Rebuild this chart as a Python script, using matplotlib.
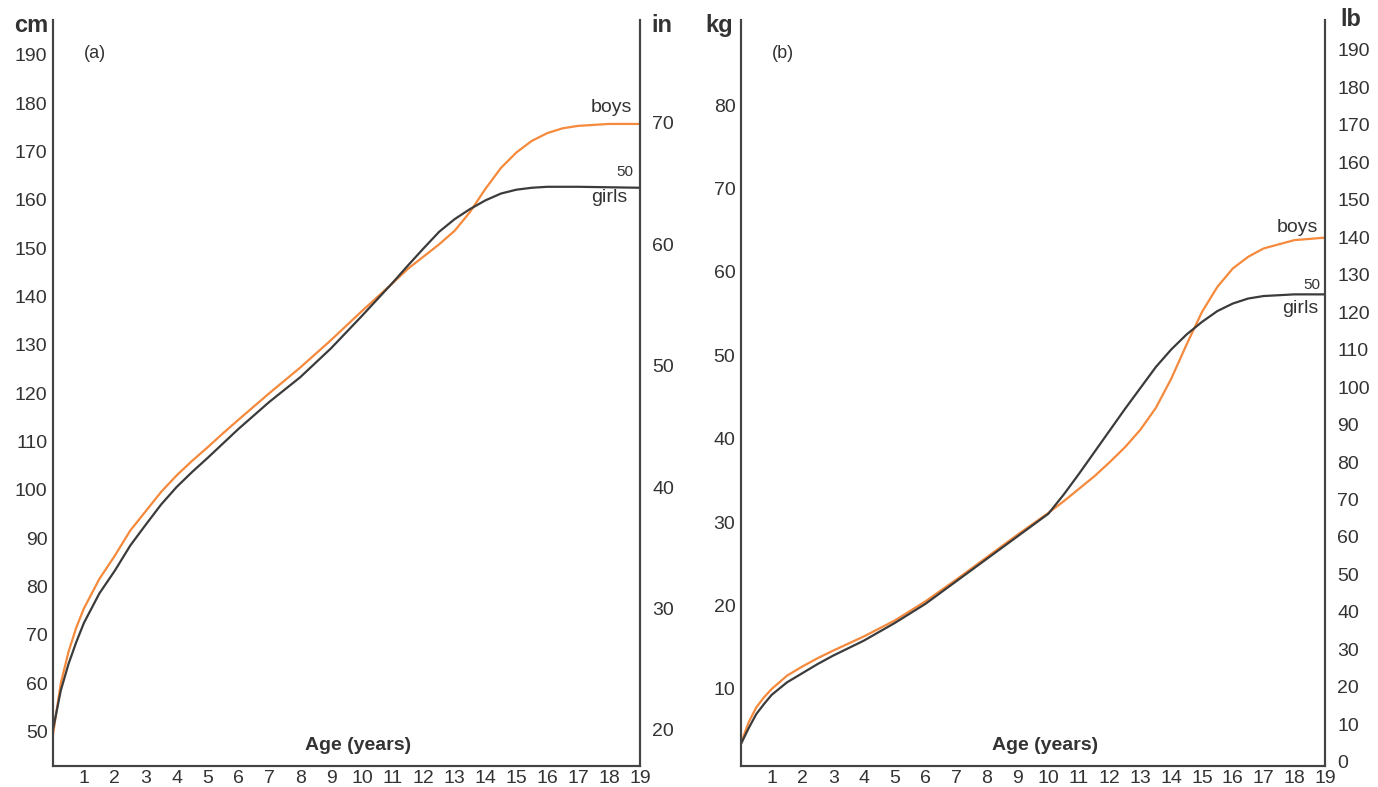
import matplotlib.pyplot as plt

plt.rcParams['font.family'] = ['Liberation Sans', 'DejaVu Sans']

# (a) height, cm -- 50th centile
ages_cm = [0, 0.25, 0.5, 0.75, 1, 1.5, 2, 2.5, 3, 3.5, 4, 4.5, 5, 5.5, 6,
           7, 8, 9, 10, 11, 11.5, 12, 12.5, 13, 13.5, 14, 14.5, 15, 15.5,
           16, 16.5, 17, 18, 19]
boys_cm = [49.5, 60, 66.5, 71.5, 75.5, 81.6, 86.4, 91.6, 95.6, 99.6, 103.0,
           106.0, 108.8, 111.7, 114.5, 120, 125.3, 131, 137, 142.8, 145.8,
           148.3, 150.8, 153.6, 157.5, 162.3, 166.6, 169.8, 172.2, 173.8,
           174.8, 175.3, 175.7, 175.7]
girls_cm = [50.5, 58.5, 64, 68.5, 72.5, 78.6, 83.3, 88.5, 92.8, 97, 100.6,
            103.7, 106.6, 109.6, 112.6, 118.2, 123.3, 129.3, 136, 142.9,
            146.5, 150.0, 153.4, 156.0, 158.1, 159.9, 161.3, 162.1, 162.5,
            162.7, 162.7, 162.7, 162.6, 162.5]

# (b) weight, kg
ages_kg = [0, 0.25, 0.5, 0.75, 1, 1.5, 2, 2.5, 3, 4, 5, 6, 7, 8, 9, 10,
           10.5, 11, 11.5, 12, 12.5, 13, 13.5, 14, 14.5, 15, 15.5, 16, 16.5,
           17, 18, 19]
boys_kg = [3.5, 6.0, 7.8, 9.0, 10.0, 11.6, 12.7, 13.7, 14.6, 16.3, 18.2,
           20.5, 23.1, 25.8, 28.5, 31.1, 32.5, 34.0, 35.5, 37.2, 39.0, 41.1,
           43.7, 47.2, 51.3, 55.2, 58.2, 60.4, 61.8, 62.8, 63.8, 64.1]
girls_kg = [3.4, 5.3, 7.0, 8.2, 9.3, 10.8, 11.9, 13.0, 14.0, 15.8, 17.9,
            20.2, 22.9, 25.6, 28.3, 31.0, 33.3, 35.8, 38.4, 41.0, 43.6, 46.1,
            48.6, 50.7, 52.5, 54.0, 55.3, 56.2, 56.8, 57.1, 57.3, 57.3]

age_ticks = list(range(1, 20))
cm_ticks = list(range(50, 200, 10))
in_ticks = list(range(20, 80, 10))
kg_ticks = list(range(10, 90, 10))
lb_ticks = list(range(0, 200, 10))

ORANGE = '#f5893c'
DARK = '#3b3b3b'
TXT = '#333333'

fig = plt.figure(figsize=(13.78, 7.87), dpi=100)


def setup(ax):
    ax.spines['top'].set_visible(False)
    for s in ('left', 'bottom', 'right'):
        ax.spines[s].set_color('#444444')
        ax.spines[s].set_linewidth(1.5)
    ax.tick_params(length=0, labelsize=14, colors=TXT)


def panel(rect, ages, boys, girls, ylim, yticks, ylim2, yticks2, tag, lab):
    ax = fig.add_axes(rect)
    ax.plot(ages, boys, color=ORANGE, lw=1.6, solid_joinstyle='round')
    ax.plot(ages, girls, color=DARK, lw=1.6, solid_joinstyle='round')
    ax.set_xlim(0, 19)
    ax.set_ylim(*ylim)
    ax.set_xticks(age_ticks)
    ax.set_yticks(yticks)
    setup(ax)
    ax.tick_params(axis='y', pad=4)
    ax.tick_params(axis='x', pad=3)
    ax2 = ax.twinx()
    ax2.set_ylim(*ylim2)
    ax2.set_yticks(yticks2)
    setup(ax2)
    ax2.tick_params(axis='y', pad=9)
    ax.text(0.072, 0.955, tag, transform=ax.transAxes, fontsize=13,
            color=TXT, ha='center', va='center')
    ax.text(0.52, 0.027, 'Age (years)', transform=ax.transAxes,
            fontsize=14, fontweight='bold', color=TXT, ha='center',
            va='center')
    for txt, x, y, fs in lab:
        ax.text(x, y, txt, fontsize=fs, color=TXT, ha='right', va='center')
    return ax, ax2


panel([0.0385, 0.0267, 0.4259, 0.9479], ages_cm, boys_cm, girls_cm,
      (42.9, 197.2), cm_ticks, (17.03, 78.48), in_ticks, '(a)',
      [('boys', 18.74, 179.0, 14), ('50', 18.8, 165.8, 11),
       ('girls', 18.6, 160.4, 14)])

panel([0.5377, 0.0267, 0.4238, 0.9479], ages_kg, boys_kg, girls_kg,
      (0.77, 90.19), kg_ticks, (-1.15, 198.0), lb_ticks, '(b)',
      [('boys', 18.77, 65.3, 14), ('50', 18.84, 58.4, 11),
       ('girls', 18.77, 55.6, 14)])

for txt, x, y, ha in [('cm', 0.0348, 0.968, 'right'),
                      ('in', 0.473, 0.968, 'left'),
                      ('kg', 0.532, 0.968, 'right'),
                      ('lb', 0.9724, 0.975, 'left')]:
    fig.text(x, y, txt, fontsize=17, fontweight='bold', color=TXT,
             ha=ha, va='center')

fig.savefig('out.png', dpi=100)
plt.close(fig)
